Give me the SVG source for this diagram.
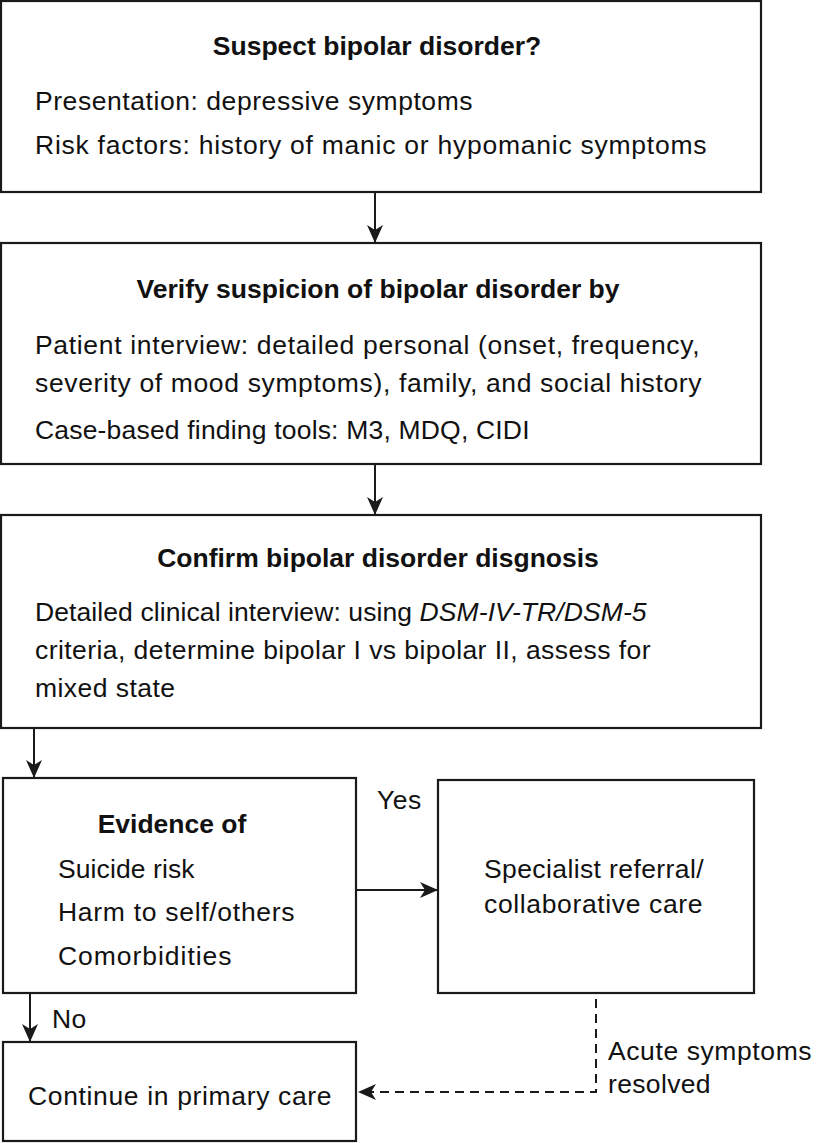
<svg xmlns="http://www.w3.org/2000/svg" width="816" height="1143" viewBox="0 0 816 1143">
<style>
.box{fill:#fff;stroke:#1a1a1a;stroke-width:2.2}
.ln{fill:none;stroke:#1a1a1a;stroke-width:2}
.dash{fill:none;stroke:#1a1a1a;stroke-width:2;stroke-dasharray:9,6}
text{font-family:"Liberation Sans",Arial,sans-serif;font-size:26.5px;letter-spacing:0.45px;fill:#111}
.b{font-weight:bold;letter-spacing:0}
.m{text-anchor:middle}
</style>
<defs>
<marker id="ah" markerWidth="18" markerHeight="16" viewBox="0 0 18 16" refX="17" refY="8" orient="auto" markerUnits="userSpaceOnUse">
<path d="M0,0 L18,8 L0,16 L5,8 Z" fill="#1a1a1a"/>
</marker>
</defs>
<rect width="816" height="1143" fill="#fff"/>
<g id="connectors">
<line class="ln" x1="375" y1="192" x2="375" y2="242" marker-end="url(#ah)"/>
<line class="ln" x1="375" y1="464" x2="375" y2="514" marker-end="url(#ah)"/>
<line class="ln" x1="34" y1="729" x2="34" y2="777" marker-end="url(#ah)"/>
<line class="ln" x1="357" y1="890" x2="437" y2="890" marker-end="url(#ah)"/>
<line class="ln" x1="30" y1="993" x2="30" y2="1041" marker-end="url(#ah)"/>
<polyline class="dash" points="596,999 596,1092 359,1092" marker-end="url(#ah)"/>
<text x="377" y="809">Yes</text>
<text x="52" y="1028">No</text>
<text x="608" y="1060" textLength="204" lengthAdjust="spacing">Acute symptoms</text>
<text x="608" y="1093" textLength="103" lengthAdjust="spacing">resolved</text>
</g>
<g id="n1">
<rect class="box" x="1" y="1" width="760" height="191"/>
<text class="b m" x="377" y="55">Suspect bipolar disorder?</text>
<text x="35" y="110" textLength="438" lengthAdjust="spacing">Presentation: depressive symptoms</text>
<text x="35" y="154" textLength="672" lengthAdjust="spacing">Risk factors: history of manic or hypomanic symptoms</text>
</g>
<g id="n2">
<rect class="box" x="1" y="243" width="760" height="221"/>
<text class="b m" x="378" y="298">Verify suspicion of bipolar disorder by</text>
<text x="35" y="354" textLength="665" lengthAdjust="spacing">Patient interview: detailed personal (onset, frequency,</text>
<text x="35" y="392" textLength="667" lengthAdjust="spacing">severity of mood symptoms), family, and social history</text>
<text x="35" y="439" textLength="495" lengthAdjust="spacing">Case-based finding tools: M3, MDQ, CIDI</text>
</g>
<g id="n3">
<rect class="box" x="1" y="515" width="760" height="213"/>
<text class="b m" x="378" y="567">Confirm bipolar disorder disgnosis</text>
<text x="35" y="621" textLength="612" lengthAdjust="spacing">Detailed clinical interview: using <tspan font-style="italic">DSM-IV-TR/DSM-5</tspan></text>
<text x="35" y="659" textLength="616" lengthAdjust="spacing">criteria, determine bipolar I vs bipolar II, assess for</text>
<text x="35" y="697">mixed state</text>
</g>
<g id="n4">
<rect class="box" x="3" y="778" width="353" height="215"/>
<text class="b m" x="172" y="833">Evidence of</text>
<text x="58" y="878" textLength="137" lengthAdjust="spacing">Suicide risk</text>
<text x="58" y="921" textLength="237" lengthAdjust="spacing">Harm to self/others</text>
<text x="58" y="965" textLength="174" lengthAdjust="spacing">Comorbidities</text>
</g>
<g id="n5">
<rect class="box" x="438" y="780" width="316" height="213"/>
<text x="484" y="878" textLength="220" lengthAdjust="spacing">Specialist referral/</text>
<text x="484" y="913" textLength="219" lengthAdjust="spacing">collaborative care</text>
</g>
<g id="n6">
<rect class="box" x="3" y="1042" width="353" height="99"/>
<text x="28" y="1105" textLength="304" lengthAdjust="spacing">Continue in primary care</text>
</g>
</svg>
